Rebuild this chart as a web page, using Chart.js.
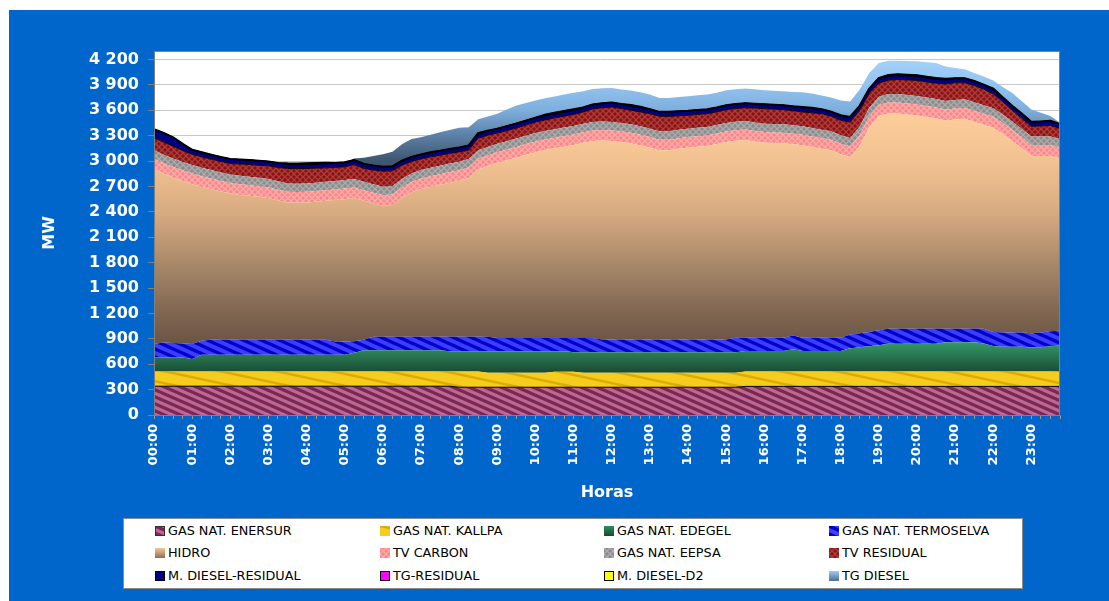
<!DOCTYPE html>
<html><head><meta charset="utf-8">
<script src="https://cdn.jsdelivr.net/npm/chart.js@4.4.1/dist/chart.umd.min.js"></script>
<style>
html,body{margin:0;padding:0;background:#ffffff;width:1109px;height:601px;overflow:hidden;}
#panel{position:absolute;left:9px;top:10px;width:1100px;height:591px;background:#0066cc;}
#c{position:absolute;left:0;top:0;}
#legend{position:absolute;left:123px;top:518px;width:898px;height:69px;background:#fff;border:1px solid #8c8c8c;}
.li{position:absolute;font:12.8px "DejaVu Sans",Verdana,sans-serif;color:#000;white-space:nowrap;height:14px;line-height:14px;}
.li canvas{position:absolute;left:0;top:2px;}
.li span{position:absolute;left:13px;top:0;}
</style></head><body>
<div id="panel"></div>
<canvas id="c" width="1109" height="601"></canvas>
<script>
// ---------- DATA ----------
const HORAS = ["00:00","00:15","00:30","00:45","01:00","01:15","01:30","01:45","02:00","02:15","02:30","02:45","03:00","03:15","03:30","03:45","04:00","04:15","04:30","04:45","05:00","05:15","05:30","05:45","06:00","06:15","06:30","06:45","07:00","07:15","07:30","07:45","08:00","08:15","08:30","08:45","09:00","09:15","09:30","09:45","10:00","10:15","10:30","10:45","11:00","11:15","11:30","11:45","12:00","12:15","12:30","12:45","13:00","13:15","13:30","13:45","14:00","14:15","14:30","14:45","15:00","15:15","15:30","15:45","16:00","16:15","16:30","16:45","17:00","17:15","17:30","17:45","18:00","18:15","18:30","18:45","19:00","19:15","19:30","19:45","20:00","20:15","20:30","20:45","21:00","21:15","21:30","21:45","22:00","22:15","22:30","22:45","23:00","23:15","23:30","23:45"];
const Y_TICKS = [0,300,600,900,1200,1500,1800,2100,2400,2700,3000,3300,3600,3900,4200];
const SERIES_NAMES = ["GAS NAT. ENERSUR","GAS NAT. KALLPA","GAS NAT. EDEGEL","GAS NAT. TERMOSELVA","HIDRO","TV CARBON","GAS NAT. EEPSA","TV RESIDUAL","M. DIESEL-RESIDUAL","TG-RESIDUAL","M. DIESEL-D2","TG DIESEL"];

const GAS_NAT_ENERSUR = [
340,340,340,340,340,340,340,340, 340,340,340,340,340,340,340,340,
340,340,340,340,340,340,340,340, 340,340,340,340,340,340,340,340,
328,328,328,328,328,328,328,328, 328,328,328,328,328,328,328,328,
328,328,328,328,328,328,328,328, 328,328,328,328,328,328,338,338,
338,338,338,338,338,338,338,338, 338,338,338,338,338,338,338,338,
338,338,338,338,338,338,338,338, 338,338,338,338,338,338,338,338];
const GAS_NAT_KALLPA = [
175,175,175,175,175,175,175,175, 175,175,175,175,175,175,175,175,
175,175,175,175,175,175,175,175, 175,175,175,175,175,175,175,175,
187,187,187,170,170,170,170,170, 170,170,184,184,184,170,170,170,
170,170,170,170,170,170,170,170, 170,170,170,170,170,170,177,177,
177,177,177,177,177,177,177,177, 177,177,177,177,177,177,177,177,
177,177,177,177,177,177,177,177, 177,177,177,177,177,177,177,177];
const GAS_NAT_EDEGEL = [
164,164,164,164,148,197,197,197, 197,197,197,197,197,197,197,197,
197,197,197,197,197,220,250,250, 250,250,250,250,250,250,250,238,
238,238,238,255,255,255,255,255, 255,255,241,241,228,242,242,242,
242,242,242,242,242,242,242,242, 242,242,242,242,242,242,240,240,
240,240,240,262,240,240,240,240, 240,275,285,297,310,326,326,326,
326,326,326,345,345,345,345,330, 300,290,290,290,282,285,297,307];
const GAS_NAT_TERMOSELVA = [
161,176,171,166,177,166,178,178, 178,178,178,178,178,178,178,178,
178,178,178,156,156,135,123,160, 160,160,160,160,160,160,160,172,
172,172,172,172,157,157,157,157, 157,157,157,157,170,170,170,151,
151,151,151,151,151,151,151,151, 151,151,151,151,151,172,157,157,
157,157,157,163,157,157,157,157, 157,160,165,168,175,177,177,177,
177,177,177,158,158,158,158,173, 165,170,170,170,168,175,178,173];
const HIDRO = [
2064,1995,1955,1920,1887,1817,1778,1750, 1727,1710,1699,1688,1672,1645,1621,1618,
1621,1630,1640,1672,1682,1692,1642,1575, 1547,1555,1637,1703,1743,1770,1794,1820,
1841,1875,1979,2015,2070,2100,2130,2165, 2195,2220,2240,2260,2280,2305,2327,2351,
2346,2334,2318,2294,2267,2236,2236,2254, 2267,2277,2287,2309,2334,2328,2337,2318,
2305,2301,2297,2258,2274,2253,2234,2215, 2168,2098,2213,2420,2531,2545,2545,2532,
2521,2502,2486,2462,2474,2482,2446,2412, 2413,2345,2262,2175,2095,2085,2070,2034];
const TV_CARBON = [
125,125,125,125,125,125,125,125, 125,125,125,125,125,125,125,125,
125,125,125,125,125,125,125,125, 125,125,125,125,125,125,125,125,
125,125,125,125,125,125,125,125, 125,125,125,125,125,125,125,125,
125,125,125,125,125,125,125,125, 125,125,125,125,125,125,125,125,
125,125,125,125,125,125,125,125, 125,125,130,130,130,130,130,130,
130,130,130,130,130,130,130,130, 130,130,130,130,130,130,130,130];
const GAS_NAT_EEPSA = [
100,100,100,100,100,100,100,100, 100,100,100,100,100,100,100,100,
100,100,100,100,100,100,100,100, 100,100,100,100,100,100,100,100,
100,100,100,100,100,100,100,100, 100,100,100,100,100,100,100,100,
100,100,100,100,100,100,100,100, 100,100,100,100,100,100,100,100,
100,100,100,100,100,100,100,100, 100,100,100,100,100,100,100,100,
100,100,100,100,100,100,100,100, 100,100,100,100,100,100,100,100];
const TV_RESIDUAL = [
145,150,146,135,128,130,129,130, 129,140,145,147,156,165,176,177,
176,171,165,160,157,172,157,170, 184,180,164,142,132,130,126,120,
117,105,141,140,125,125,125,125, 130,130,135,135,135,140,153,163,
176,170,166,170,177,176,176,165, 157,157,157,155,157,155,156,170,
177,175,173,172,168,180,189,178, 176,188,191,170,159,162,171,178,
183,185,186,200,203,195,199,190, 172,150,132,125,120,125,132,124];
const M_DIESEL_RESIDUAL = [
100,105,100,75,50,50,50,50, 50,50,50,50,50,50,50,50,
50,50,50,50,50,50,50,50, 50,50,50,50,50,50,50,50,
50,50,50,50,50,50,50,50, 50,50,50,50,50,50,50,50,
50,50,50,50,50,50,50,50, 50,50,50,50,50,50,50,50,
50,50,50,50,50,50,50,50, 50,50,50,50,50,50,50,50,
50,50,50,50,50,50,50,50, 50,50,50,50,50,50,50,50];
const TG_RESIDUAL = [
0,0,0,0,0,0,0,0, 0,0,0,0,0,0,8,8,
8,8,8,0,0,0,0,0, 0,0,0,0,0,0,0,0,
0,0,8,0,0,0,0,0, 0,8,8,8,8,0,0,0,
0,0,8,8,0,0,0,0, 0,0,0,0,0,0,0,0,
0,0,0,0,0,0,0,0, 0,0,0,0,8,8,8,8,
8,8,8,0,0,0,0,0, 8,0,0,0,0,0,0,0];
const M_DIESEL_D2 = [
0,0,0,0,0,0,0,0, 0,0,0,0,0,0,0,0,
0,0,0,0,0,0,0,0, 0,0,0,0,0,0,0,0,
0,0,0,0,0,0,0,0, 0,0,0,0,0,0,0,0,
0,0,0,0,0,0,0,0, 0,0,0,0,0,0,0,0,
0,0,0,0,8,8,0,0, 8,8,0,0,0,0,0,0,
0,0,0,8,0,0,0,0, 0,0,0,0,0,0,0,0];
const TG_DIESEL = [
0,0,0,0,0,0,0,0, 0,0,0,0,0,0,0,0,
0,0,0,0,0,20,78,115, 149,175,196,216,205,210,220,228,
235,220,165,170,180,200,216,210, 205,200,195,198,200,195,185,180,
175,175,175,176,176,168,168,172, 176,176,176,178,180,178,177,172,
168,168,168,172,176,170,164,170, 177,185,196,190,181,172,164,166,
168,175,181,150,125,110,98,98, 98,125,156,152,150,105,59,19];

const SERIES_VALUES = [GAS_NAT_ENERSUR,GAS_NAT_KALLPA,GAS_NAT_EDEGEL,GAS_NAT_TERMOSELVA,HIDRO,TV_CARBON,GAS_NAT_EEPSA,TV_RESIDUAL,M_DIESEL_RESIDUAL,TG_RESIDUAL,M_DIESEL_D2,TG_DIESEL];

// ---------- STYLES ----------
function stripes(ctx,w,h,bg,fg,lw){
  const c=document.createElement('canvas');c.width=w;c.height=h;
  const x=c.getContext('2d');x.fillStyle=bg;x.fillRect(0,0,w,h);
  x.strokeStyle=fg;x.lineWidth=lw;
  for(let k=-2;k<=2;k++){const o=k*h;x.beginPath();x.moveTo(-w,o-h);x.lineTo(2*w,o+2*h);x.stroke();}
  return ctx.createPattern(c,'repeat');
}
function mesh(ctx,s,bg,fg,lw){
  const c=document.createElement('canvas');c.width=s;c.height=s;
  const x=c.getContext('2d');x.fillStyle=bg;x.fillRect(0,0,s,s);
  x.strokeStyle=fg;x.lineWidth=lw;
  for(const dx of [-s,0,s]){
    x.beginPath();x.moveTo(dx,0);x.lineTo(dx+s,s);x.stroke();
    x.beginPath();x.moveTo(dx+s,0);x.lineTo(dx,s);x.stroke();
  }
  return ctx.createPattern(c,'repeat');
}
const GRAD = {
  ed:[[860,'#33996a'],[500,'#1a4a32']],
  hi:[[3600,'#fdcd9a'],[3000,'#f2c292'],[2400,'#d9ab81'],[1800,'#a9896a'],[1200,'#7f6651'],[850,'#6b5643']],
  tg:[[3000,'#3e566f'],[3300,'#5b80a6'],[3600,'#7eaedc'],[3900,'#93c3f1'],[4200,'#a3d1fb']]
};
function gradFill(stops){
  return (c)=>{
    const ch=c.chart, y=ch.scales&&ch.scales.y;
    if(!ch.chartArea||!y) return stops[0][1];
    const p0=y.getPixelForValue(stops[0][0]), p1=y.getPixelForValue(stops[stops.length-1][0]);
    const g=ch.ctx.createLinearGradient(0,p0,0,p1);
    stops.forEach(([v,col])=>g.addColorStop(Math.min(1,Math.max(0,(y.getPixelForValue(v)-p0)/(p1-p0))),col));
    return g;
  };
}
function fills(ctx){
  return [
    stripes(ctx,16,7,'#bb6894','#7c2652',3.2),
    stripes(ctx,56,12,'#f6cd1c','#dcab08',2.6),
    gradFill(GRAD.ed),
    stripes(ctx,18,8,'#3d3dff','#0000cc',3.4),
    gradFill(GRAD.hi),
    mesh(ctx,6,'#f78888','#ffaaaa',1.3),
    mesh(ctx,6,'#8b8b8b','#ababab',1.3),
    mesh(ctx,6,'#8c1212','#ac3c3c',1.3),
    '#000080','#ff00ff','#ffff00',
    gradFill(GRAD.tg)
  ];
}
const BORDERS = [
  ['#000',1],['rgba(0,0,0,0)',0],['rgba(0,0,0,0)',0],['rgba(0,0,0,0)',0],['rgba(0,0,0,0)',0],
  ['rgba(0,0,0,0)',0],['rgba(0,0,0,0)',0],['#1a0000',1],['#000',1.5],['#000',1.5],['#000',2.5],['rgba(0,0,0,0)',0]
];

const canvas=document.getElementById('c');
const ctx=canvas.getContext('2d');
const F=fills(ctx);

const datasets = SERIES_NAMES.map((name,i)=>({
  label:name,
  data:SERIES_VALUES[i],
  backgroundColor:F[i],
  borderColor:BORDERS[i][0],
  borderWidth:BORDERS[i][1],
  fill: i===0?'origin':'-1',
  pointRadius:0,
  tension:0
}));

function fmt(v){ return v>=1000 ? Math.floor(v/1000)+' '+String(v%1000).padStart(3,'0') : String(v); }

const bgPlugin={id:'bgp',
  beforeDraw(ch){const a=ch.chartArea,c=ch.ctx;c.save();c.fillStyle='#fff';c.fillRect(a.left,a.top,a.right-a.left,a.bottom-a.top);c.restore();},
  afterDraw(ch){const a=ch.chartArea,c=ch.ctx;c.save();c.strokeStyle='#808080';c.lineWidth=1;c.strokeRect(a.left+0.5,a.top+0.5,a.right-a.left-1,a.bottom-a.top);c.restore();}
};

new Chart(ctx,{
  type:'line',
  data:{labels:HORAS,datasets},
  plugins:[bgPlugin],
  options:{
    responsive:false,animation:false,devicePixelRatio:1,events:[],
    layout:{padding:{left:0,top:51,right:49,bottom:0}},
    plugins:{legend:{display:false},tooltip:{enabled:false}},
    scales:{
      x:{type:'category',offset:false,
        grid:{drawOnChartArea:false,drawTicks:true,tickLength:4,tickColor:'#9a9a9a'},
        border:{color:'#808080'},
        ticks:{autoSkip:false,maxRotation:90,minRotation:90,padding:5,color:'#fff',
          font:{family:'DejaVu Sans',weight:'bold',size:13},
          callback:function(v,i){return i%4===0?this.getLabelForValue(v):'';}},
        title:{display:true,text:'Horas',color:'#fff',font:{family:'DejaVu Sans',weight:'bold',size:16},padding:{top:0,bottom:99}},
        afterFit(s){s.height=186;}
      },
      y:{stacked:true,min:0,max:4300,
        afterBuildTicks(s){s.ticks=Y_TICKS.map(v=>({value:v}));},
        grid:{color:'#c8c8c8',tickColor:'#808080',tickLength:6},
        border:{color:'#808080'},
        ticks:{padding:9,color:'#fff',font:{family:'DejaVu Sans',weight:'bold',size:16},callback:fmt},
        title:{display:true,text:'MW',color:'#fff',font:{family:'DejaVu Sans',weight:'bold',size:16},padding:{top:40,bottom:0}},
        afterFit(s){s.width=154;}
      }
    }
  }
});

// ---------- LEGEND (HTML) ----------
const lg=document.createElement('div');lg.id='legend';document.body.appendChild(lg);
const SW_COLORS=[null,null,['#2f8f5e','#1a4a32'],null,['#f7c898','#8a6e54'],null,null,null,'#000080','#ff00ff','#ffff00',['#9ecbf6','#4f6f90']];
const SW_BORDER=['#333',null,null,null,null,null,null,null,'#000','#000','#000',null];
const colX=[155,380,604,829], rowY=[530.5,553,576];
SERIES_NAMES.forEach((name,i)=>{
  const d=document.createElement('div');d.className='li';
  d.style.left=colX[i%4]+'px';d.style.top=(rowY[Math.floor(i/4)]-7)+'px';
  const sc=document.createElement('canvas');sc.width=10;sc.height=10;
  const x=sc.getContext('2d');
  let fillStyle;
  const sw=SW_COLORS[i];
  if(Array.isArray(sw)){const g=x.createLinearGradient(0,0,0,10);g.addColorStop(0,sw[0]);g.addColorStop(1,sw[1]);fillStyle=g;}
  else if(typeof sw==='string'){fillStyle=sw;}
  else {fillStyle=fills(x)[i];}
  x.fillStyle=fillStyle;x.fillRect(0,0,10,10);
  if(SW_BORDER[i]){x.strokeStyle=SW_BORDER[i];x.lineWidth=1;x.strokeRect(0.5,0.5,9,9);}
  const sp=document.createElement('span');sp.textContent=name;
  d.appendChild(sc);d.appendChild(sp);document.body.appendChild(d);
});
</script>
</body></html>
